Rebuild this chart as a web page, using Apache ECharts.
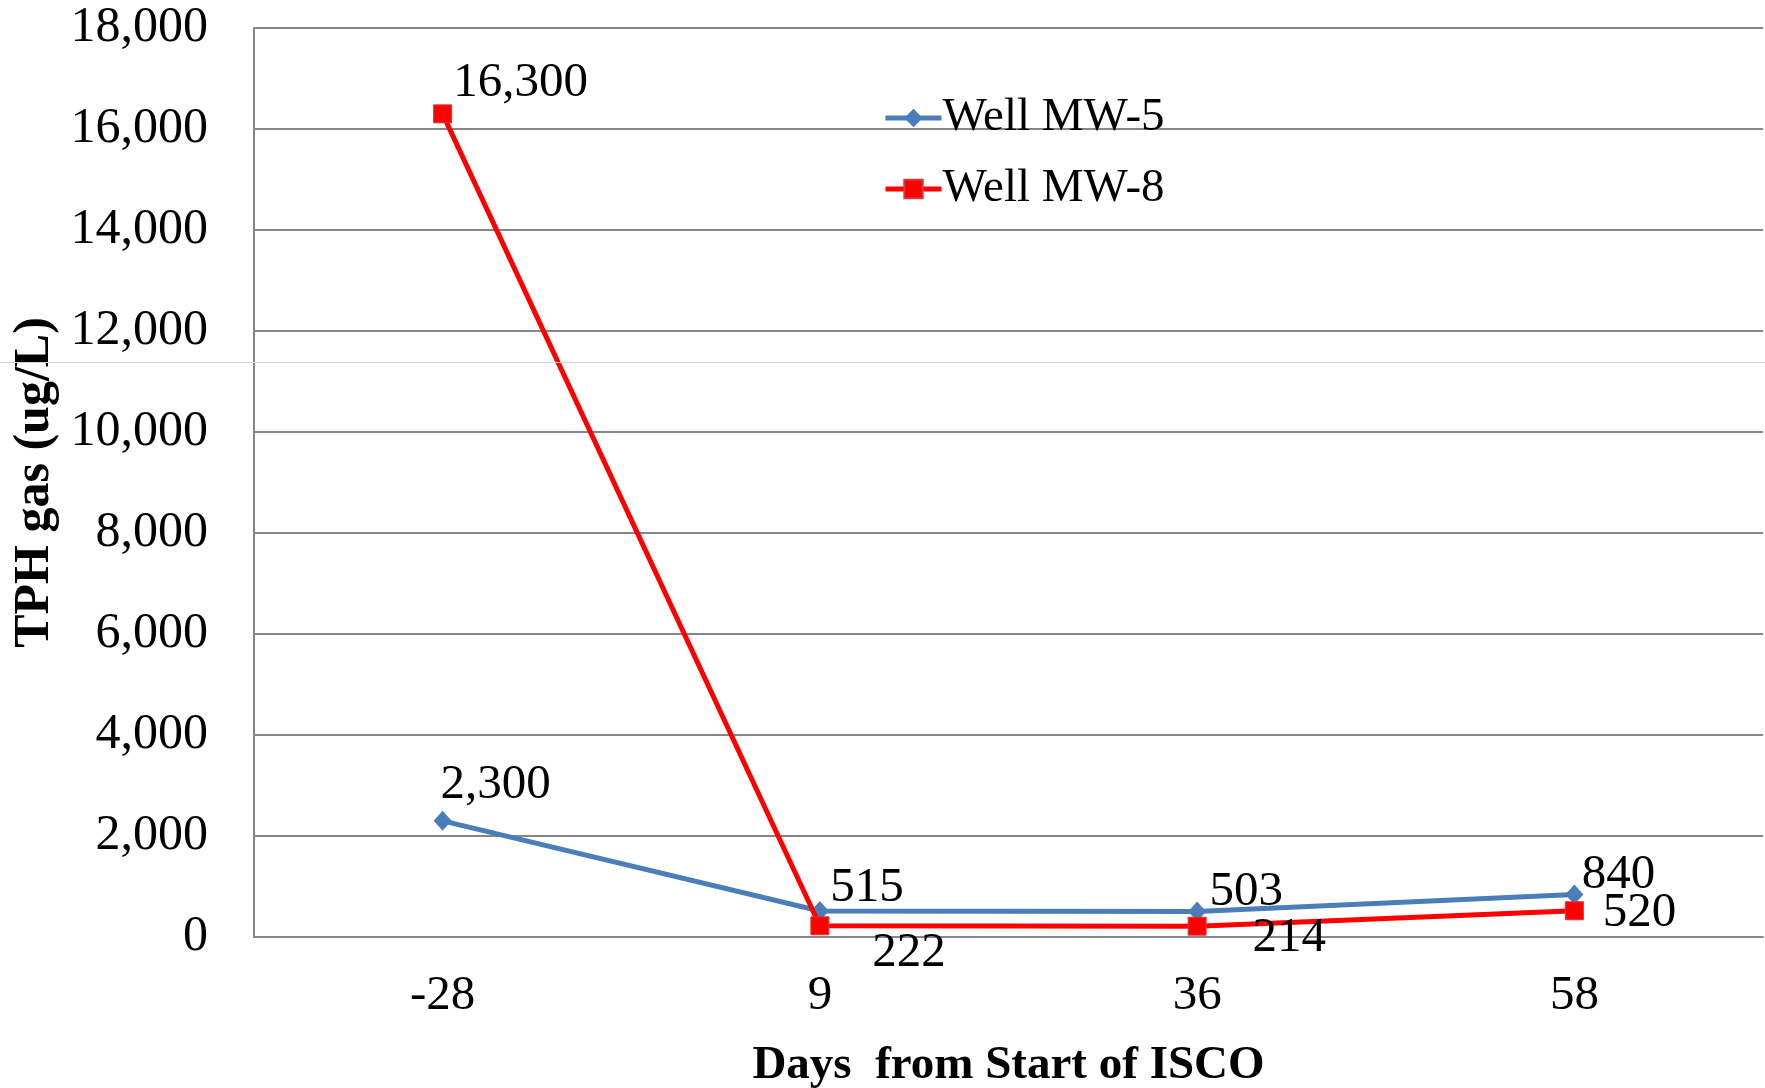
<!DOCTYPE html>
<html>
<head>
<meta charset="utf-8">
<script src="https://cdn.jsdelivr.net/npm/echarts@6/dist/echarts.min.js"></script>
<style>html,body{margin:0;padding:0;background:#fff}#c{width:1765px;height:1088px}</style>
</head>
<body>
<div id="c"></div>
<script>
const categories = ['-28', '9', '36', '58'];
const mw5 = [2300, 515, 503, 840];
const mw8 = [16300, 222, 214, 520];
const yTicks = [0, 2000, 4000, 6000, 8000, 10000, 12000, 14000, 16000, 18000];

const mw5Offsets = [[53, -36], [47, -23], [49, -19], [44, -19]];
const mw8Offsets = [[78, -31], [89, 27], [92, 12], [65, 2]];

const FONT = '"Liberation Serif", "Times New Roman", serif';
const fmt = v => v.toLocaleString('en-US');

function withLabels(vals, offs) {
  return vals.map((v, i) => ({
    value: v,
    label: { show: true, position: 'inside', offset: offs[i], formatter: p => fmt(p.value),
      fontFamily: FONT, fontSize: 49, color: '#000' }
  }));
}

const chart = echarts.init(document.getElementById('c'), null, { renderer: 'canvas' });
chart.setOption({
  animation: false,
  backgroundColor: '#fff',
  grid: { left: 254, right: 2, top: 28, bottom: 151, containLabel: false, outerBoundsMode: 'none' },
  legend: {
    orient: 'vertical', left: 878, top: 88,
    itemWidth: 56, itemHeight: 23, itemGap: 21,
    lineStyle: { width: 5 },
    textStyle: { fontFamily: FONT, fontSize: 47, color: '#000', lineHeight: 50, padding: [0, 0, 0, -4] },
    data: ['Well MW-5', 'Well MW-8']
  },
  xAxis: {
    type: 'category', data: categories, boundaryGap: true,
    axisLine: { lineStyle: { color: '#868686', width: 2 } },
    axisTick: { show: false },
    axisLabel: { fontFamily: FONT, fontSize: 49, color: '#000', margin: 35 },
    name: 'Days  from Start of ISCO', nameLocation: 'middle', nameGap: 105,
    nameTextStyle: { fontFamily: FONT, fontSize: 47, fontWeight: 'bold', color: '#000' }
  },
  yAxis: {
    type: 'value', min: yTicks[0], max: yTicks[yTicks.length - 1], interval: 2000,
    axisLine: { show: true, lineStyle: { color: '#868686', width: 2 } },
    axisTick: { show: false },
    splitLine: { lineStyle: { color: '#868686', width: 2 } },
    axisLabel: { fontFamily: FONT, fontSize: 50, color: '#000', margin: 46, formatter: v => fmt(v) },
    name: 'TPH gas (ug/L)', nameLocation: 'middle', nameGap: 193, nameRotate: 90,
    nameTextStyle: { fontFamily: FONT, fontSize: 50, fontWeight: 'bold', color: '#000' }
  },
  graphic: [{
    type: 'line', z: 100, silent: true,
    shape: { x1: 0, y1: 362.5, x2: 1765, y2: 362.5 },
    style: { stroke: '#d4d4d4', lineWidth: 1 }
  }],
  series: [
    {
      name: 'Well MW-5', type: 'line', data: withLabels(mw5, mw5Offsets),
      symbol: 'diamond', symbolSize: [18, 20],
      lineStyle: { color: '#4a7ebb', width: 5 },
      itemStyle: { color: '#4a7ebb' }, z: 3
    },
    {
      name: 'Well MW-8', type: 'line', data: withLabels(mw8, mw8Offsets),
      symbol: 'rect', symbolSize: 18,
      lineStyle: { color: '#ff0000', width: 5 },
      itemStyle: { color: '#ff0000', borderColor: '#d43a3a', borderWidth: 1 }, z: 4
    }
  ]
});
</script>
</body>
</html>
